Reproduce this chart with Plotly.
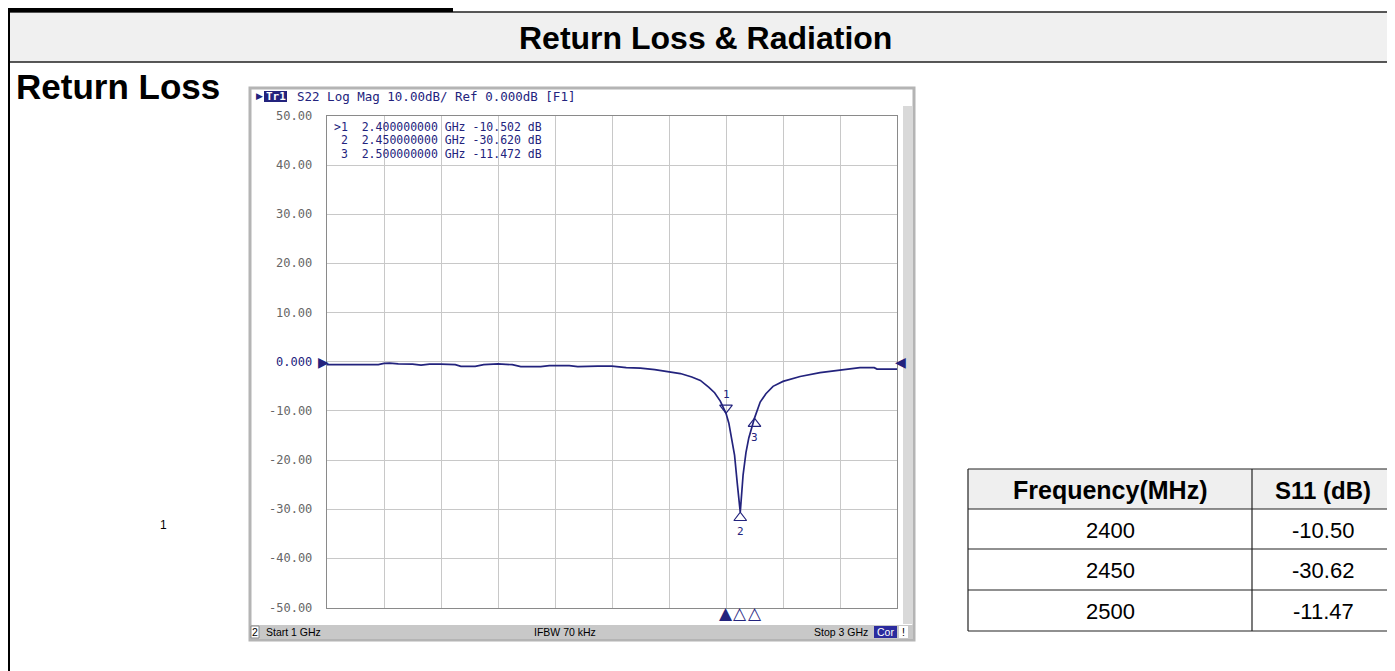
import plotly.graph_objects as go

# ---------------- data ----------------
freq_ghz = [1.00, 1.10, 1.18, 1.20, 1.22, 1.25, 1.30, 1.33, 1.36, 1.40, 1.45, 1.47, 1.52, 1.55, 1.60,
            1.65, 1.68, 1.75, 1.78, 1.85, 1.88, 1.95, 2.00, 2.05, 2.10, 2.15, 2.20, 2.24, 2.28, 2.31,
            2.34, 2.36, 2.38, 2.40, 2.41, 2.42, 2.43, 2.44, 2.45, 2.46, 2.47, 2.48, 2.49, 2.50, 2.52,
            2.54, 2.565, 2.60, 2.66, 2.73, 2.80, 2.87, 2.92, 2.93, 3.00]
s22_db = [-0.6, -0.6, -0.6, -0.35, -0.3, -0.45, -0.5, -0.7, -0.5, -0.5, -0.6, -0.95, -0.95, -0.6, -0.45,
          -0.6, -1.0, -1.0, -0.8, -0.8, -1.0, -0.9, -0.9, -1.2, -1.3, -1.6, -2.0, -2.4, -3.1, -3.8,
          -5.2, -6.3, -8.0, -10.5, -12.5, -15.5, -19.0, -25.0, -30.62, -23.0, -18.5, -15.5, -13.2, -11.47, -8.2,
          -6.5, -5.0, -4.0, -3.0, -2.2, -1.7, -1.2, -1.2, -1.5, -1.5]

marker_freq_ghz = [2.40, 2.45, 2.50]
marker_db = [-10.502, -30.620, -11.472]

y_ticks = [50, 40, 30, 20, 10, 0, -10, -20, -30, -40, -50]

table_header = ["Frequency(MHz)", "S11 (dB)"]
table_freq_mhz = [2400, 2450, 2500]
table_s11_db = [-10.50, -30.62, -11.47]

title_text = "Return Loss & Radiation"
section_text = "Return Loss"
instr_header = "S22 Log Mag 10.00dB/ Ref 0.000dB [F1]"

# ---------------- geometry helpers (page coords -> paper) ----------------
OFF = 8                      # page body margin
W, H = 1395 - OFF, 671 - OFF
def px(x):
    return (x - OFF) / W
def py(y):
    return 1 - (y - OFF) / H

NAVY = "#23237d"
MONO = "DejaVu Sans Mono"
SANS = "Liberation Sans"

shapes = []
annos = []

def rect(x0, y0, x1, y1, fill=None, line=None, lw=1, layer="below"):
    shapes.append(dict(type="rect", xref="paper", yref="paper",
                       x0=px(x0), x1=px(x1), y0=py(y1), y1=py(y0),
                       fillcolor=fill if fill else "rgba(0,0,0,0)",
                       line=dict(color=line if line else "rgba(0,0,0,0)", width=lw if line else 0),
                       layer=layer))

def hline(x0, x1, y, color, lw=1, layer="below"):
    shapes.append(dict(type="line", xref="paper", yref="paper", x0=px(x0), x1=px(x1),
                       y0=py(y), y1=py(y), line=dict(color=color, width=lw), layer=layer))

def vline(x, y0, y1, color, lw=1, layer="below"):
    shapes.append(dict(type="line", xref="paper", yref="paper", x0=px(x), x1=px(x),
                       y0=py(y0), y1=py(y1), line=dict(color=color, width=lw), layer=layer))

def text(x, y, t, size, color="black", family=SANS, xanchor="center", bold=False, height=None):
    if bold:
        t = "<b>" + t + "</b>"
    a = dict(xref="paper", yref="paper", x=px(x), y=py(y), text=t, showarrow=False,
             xanchor=xanchor, yanchor="middle", font=dict(size=size, color=color, family=family))
    if height:
        a["height"] = height
        a["valign"] = "middle"
    annos.append(a)

# ---------------- page frame ----------------
rect(9, 12, 1400, 62, fill="#f0f0f0", line="#222222", lw=1.5)
rect(0, 4, 453, 12, fill="black")
vline(9, 12, 680, "black", 2)
text(705, 38, title_text, 32, bold=True)
text(14, 86, section_text, 35, xanchor="left", bold=True)
text(163, 525, "1", 12)

# ---------------- instrument frame ----------------
rect(250, 88, 914, 640, fill="white", line="#b4b4b4", lw=3)
rect(903, 106, 913, 624, fill="#d9d9d9")
rect(251, 625, 913, 639, fill="#c8c8c8")
# header
text(254, 96.5, "\u25b6", 9, color=NAVY, family="DejaVu Sans", xanchor="left")
rect(264, 91, 287, 102, fill=NAVY)
text(275.5, 96.5, "<b>Tr1</b>", 11, color="white", family=MONO)
text(295, 96.5, instr_header.replace(" ", "\u00a0"), 12.5, color=NAVY, family=MONO, xanchor="left")

# marker readouts
for i, (f, v) in enumerate(zip(marker_freq_ghz, marker_db)):
    pre = ">" if i == 0 else " "
    s = f"{pre}{i + 1}  {f:.9f} GHz {v:.3f} dB".replace(" ", "\u00a0")
    text(332, 126.5 + i * 13.6, s, 11.5, color=NAVY, family=MONO, xanchor="left", height=10)

# status bar
rect(251, 626, 259, 638, fill="white", line="#888888", lw=1, layer="above")
text(255, 632, "2", 10.5, family=SANS)
text(264, 632, "Start 1 GHz", 10.5, family=SANS, xanchor="left")
text(565, 632, "IFBW 70 kHz", 10.5, family=SANS)
text(870, 632, "Stop 3 GHz", 10.5, family=SANS, xanchor="right")
rect(874, 626, 897, 638, fill="#2b2b9e", layer="above")
text(885.5, 632, "Cor", 10.5, color="white", family=SANS)
rect(899, 626, 908, 638, fill="white", layer="above")
text(903.5, 632, "!", 10.5, family=SANS)

# y labels
for v in y_ticks:
    lab = "0.000" if v == 0 else f"{v:.2f}"
    col = NAVY if v == 0 else "#666666"
    annos.append(dict(xref="paper", yref="y", x=px(314), y=v, text=lab, showarrow=False,
                      xanchor="right", yanchor="middle", font=dict(size=12, color=col, family=MONO)))

# reference-level arrows at 0 dB (left and right edges)
annos.append(dict(xref="paper", yref="y", x=px(316), y=0, text="\u25b6", showarrow=False,
                  xanchor="left", yanchor="middle", font=dict(size=14, color=NAVY, family="DejaVu Sans")))
annos.append(dict(xref="paper", yref="y", x=px(908), y=0, text="\u25c0", showarrow=False,
                  xanchor="right", yanchor="middle", font=dict(size=14, color=NAVY, family="DejaVu Sans")))

# ---------------- table ----------------
tx = [968, 1252, 1400]
ty = [469, 509, 549, 590, 631]
rect(tx[0], ty[0], tx[2], ty[1], fill="#efefef")
for y in ty:
    hline(tx[0], tx[2], y, "#222222", 1.2)
vline(tx[0], ty[0], ty[-1], "#222222", 1.2)
vline(tx[1], ty[0], ty[-1], "#222222", 1.2)
cx = [(tx[0] + tx[1]) / 2, 1323]
text(cx[0], (ty[0] + ty[1]) / 2 + 1, table_header[0], 25, bold=True)
text(cx[1], (ty[0] + ty[1]) / 2 + 1, table_header[1], 24, bold=True)
for i, (f, s) in enumerate(zip(table_freq_mhz, table_s11_db)):
    yc = (ty[i + 1] + ty[i + 2]) / 2 + 1
    text(cx[0], yc, f"{f}", 22)
    text(cx[1], yc, f"{s:.2f}", 22)

# ---------------- trace ----------------
fig = go.Figure()
fig.add_trace(go.Scatter(x=freq_ghz, y=s22_db, mode="lines", line=dict(color=NAVY, width=1.7),
                         hoverinfo="skip", showlegend=False))

PX_PER_DB = (607.5 - 116) / 100.0
tri = 11
r = tri / 2
mk_sym = ["triangle-down-open", "triangle-up-open", "triangle-up-open"]
mk_sign = [1, -1, -1]
mk_y = [v + sg * r / PX_PER_DB for v, sg in zip(marker_db, mk_sign)]
fig.add_trace(go.Scatter(x=marker_freq_ghz, y=mk_y, mode="markers",
                         marker=dict(symbol=mk_sym, size=tri, color=NAVY, line=dict(color=NAVY, width=1.2)),
                         hoverinfo="skip", showlegend=False))
for i, (f, v) in enumerate(zip(marker_freq_ghz, marker_db)):
    annos.append(dict(xref="x", yref="y", x=f, y=v, text=str(i + 1), showarrow=False,
                      yshift=19 * mk_sign[i], font=dict(size=11, color=NAVY, family=MONO)))

# bottom marker indicators (active marker filled)
for i, f in enumerate(marker_freq_ghz):
    annos.append(dict(xref="x", yref="paper", x=f, y=py(613), text="\u25b2" if i == 0 else "\u25b3",
                      showarrow=False, xanchor="center", yanchor="middle",
                      font=dict(size=17, color=NAVY, family="DejaVu Sans")))

fig.update_layout(
    width=W, height=H, margin=dict(l=0, r=0, t=0, b=0),
    paper_bgcolor="white", plot_bgcolor="rgba(0,0,0,0)",
    shapes=shapes, annotations=annos, showlegend=False,
    xaxis=dict(domain=[px(327), px(897)], range=[1, 3], dtick=0.2, tick0=1, showgrid=True,
               gridcolor="#c8c8c8", gridwidth=1, zeroline=False, showticklabels=False, ticks="",
               showline=True, mirror=True, linecolor="#8a8a8a", linewidth=1, fixedrange=True),
    yaxis=dict(domain=[py(607.5), py(116)], range=[-50, 50], dtick=10, tick0=0, showgrid=True,
               gridcolor="#c8c8c8", gridwidth=1, zeroline=False, showticklabels=False, ticks="",
               showline=True, mirror=True, linecolor="#8a8a8a", linewidth=1, fixedrange=True),
)

fig.write_html("out.html")
